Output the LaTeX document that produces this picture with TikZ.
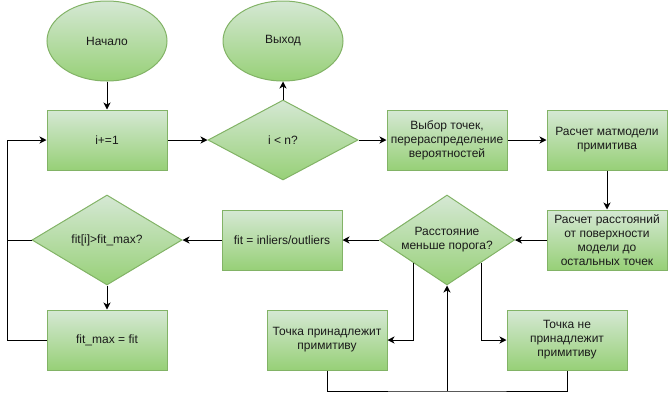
\documentclass[tikz,border=0pt]{standalone}
\usepackage{fontspec}
\setmainfont{Liberation Sans}
\usetikzlibrary{shapes.geometric,arrows.meta}
\definecolor{topgreen}{HTML}{D5E8D4}
\definecolor{botgreen}{HTML}{97D077}
\definecolor{bordgreen}{HTML}{82B366}
\definecolor{txtc}{HTML}{1A1A1A}
\begin{document}
\begin{tikzpicture}[x=1pt,y=-1pt,
  base/.style={draw=bordgreen, top color=topgreen, bottom color=botgreen, line width=1pt, inner sep=0pt, align=center, text=txtc, font=\fontsize{12}{14}\selectfont},
  box/.style={base, rectangle, minimum width=120pt, minimum height=60pt},
  oval/.style={base, ellipse, minimum width=120pt, minimum height=80pt},
  dia/.style={base, diamond, aspect=1},
  lbl/.style={align=center, text=txtc, inner sep=0pt, font=\fontsize{12}{14}\selectfont},
  arr/.style={-{Stealth[length=7pt,width=7pt,inset=2pt]}, line width=1pt},
  ln/.style={line width=1pt}]
\useasboundingbox (0,0) rectangle (669,400);
\node[oval] (start) at (107,41) {Начало};
\node[oval] (exit) at (283,41) {Выход};
\node[box] (inc) at (107,140) {i+=1};
\node[dia, minimum width=150pt, minimum height=80pt] (d1) at (283,140) {};
\node[lbl] at (d1.center) {i < n?};
\node[box] (sel) at (447,140) {Выбор точек,\\перераспределение\\вероятностей};
\node[box] (mod) at (607,140) {Расчет матмодели\\примитива};
\node[box] (dist) at (607,240) {Расчет расстояний\\от поверхности\\модели до\\остальных точек};
\node[dia, minimum width=135pt, minimum height=90pt] (d2) at (447,240) {};
\node[lbl] at (d2.center) {Расстояние\\меньше порога?};
\node[box] (fit) at (282,240) {fit = inliers/outliers};
\node[dia, minimum width=150pt, minimum height=90pt] (d3) at (107,240) {};
\node[lbl] at (d3.center) {fit[i]>fit\_max?};
\node[box] (fmax) at (107,340) {fit\_max = fit};
\node[box] (p1) at (327,340) {Точка принадлежит\\примитиву};
\node[box] (p2) at (567,340) {Точка не\\принадлежит\\примитиву};
\coordinate (lp) at (7,340);
\coordinate (bm) at (447,391);
\draw[arr] (start) -- (inc);
\draw[arr] (inc) -- (d1);
\draw[arr] (d1) -- (exit);
\draw[arr] (d1) -- (sel);
\draw[arr] (sel) -- (mod);
\draw[arr] (mod) -- (dist);
\draw[arr] (dist) -- (d2);
\draw[arr] (d2) -- (fit);
\draw[arr] (fit) -- (d3);
\draw[arr] (d3) -- (fmax);
\draw[arr] (fmax.west) -- (lp) |- (inc.west);
\draw[ln] (d3.west) -- (d3.west -| lp);
\draw[arr] (d2.south west) |- (p1.east);
\draw[arr] (d2.south east) |- (p2.west);
\draw[ln] (p1.south) |- (bm) -| (p2.south);
\draw[arr] (bm) -- (d2.south);
\end{tikzpicture}
\end{document}
